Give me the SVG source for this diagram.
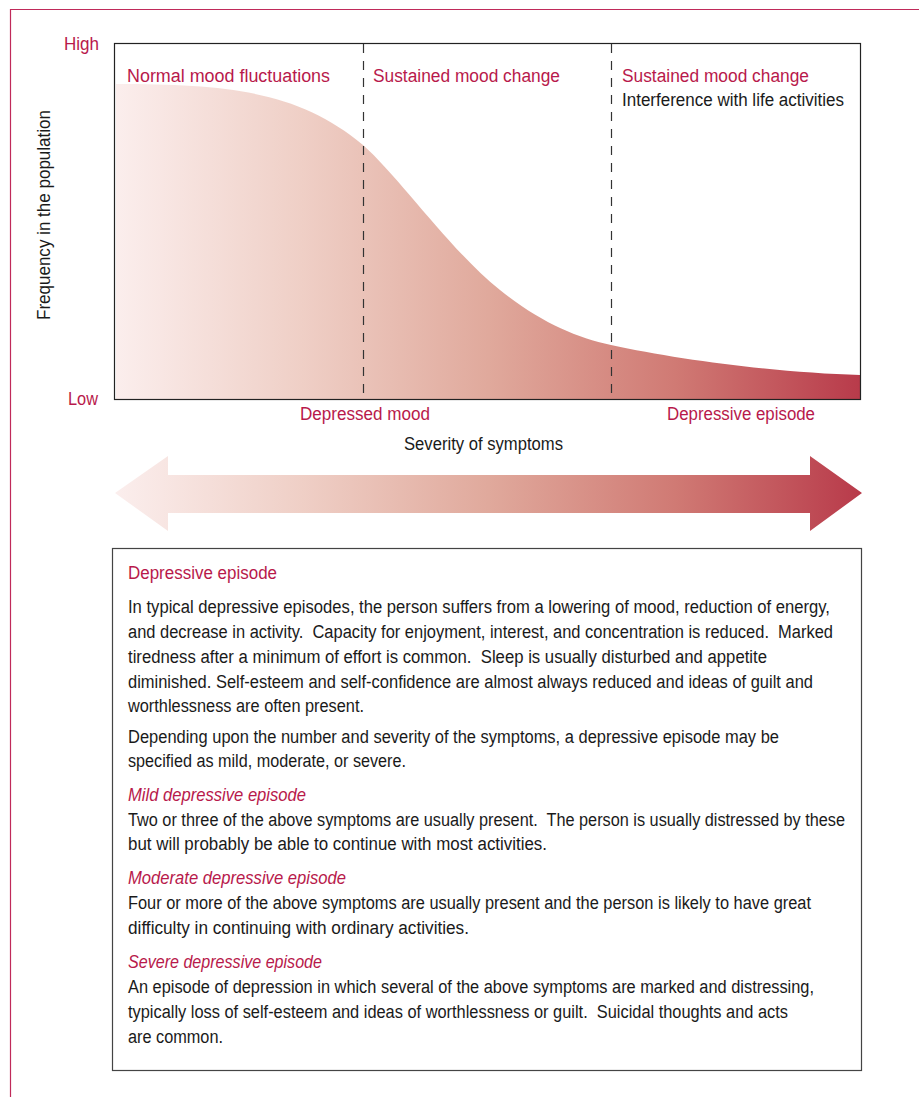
<svg xmlns="http://www.w3.org/2000/svg" width="919" height="1097" viewBox="0 0 919 1097">
<style>
text{font-family:"Liberation Sans",Arial,sans-serif;font-size:18px;fill:#1a1a1a;white-space:pre}
.r{fill:#b8194b}
.i{font-style:italic}
.dash{stroke:#333;stroke-width:1.2;stroke-dasharray:9 8;fill:none}
</style>
<defs>
<linearGradient id="g" gradientUnits="userSpaceOnUse" x1="115" y1="0" x2="862" y2="0">
<stop offset="0" stop-color="#fbeeed"/>
<stop offset="0.25" stop-color="#efcfc6"/>
<stop offset="0.5" stop-color="#e0a99c"/>
<stop offset="0.75" stop-color="#d07a74"/>
<stop offset="1" stop-color="#b83a4a"/>
</linearGradient>
</defs>
<rect width="919" height="1097" fill="#fff"/>
<path d="M919,9.5H10.5V1097" fill="none" stroke="#c02a5a" stroke-width="1.2"/>
<g id="chart">
<path d="M116,399V84C230,84 300,92 363,145C400,178 450,250 500,290C540,322 575,337 611,345C680,360 780,373 860,375V399Z" fill="url(#g)"/>
<rect x="114.5" y="43.5" width="746" height="356" fill="none" stroke="#222" stroke-width="1.2"/>
<line class="dash" x1="363.5" y1="44" x2="363.5" y2="399"/>
<line class="dash" x1="611.5" y1="44" x2="611.5" y2="399"/>
<text class="r" x="99" y="50" text-anchor="end" textLength="35" lengthAdjust="spacingAndGlyphs">High</text>
<text class="r" x="98" y="405" text-anchor="end" textLength="30" lengthAdjust="spacingAndGlyphs">Low</text>
<text x="0" y="0" transform="translate(50,215) rotate(-90)" text-anchor="middle" font-size="17" textLength="210" lengthAdjust="spacingAndGlyphs">Frequency in the population</text>
<text class="r" x="127" y="82" textLength="203" lengthAdjust="spacingAndGlyphs">Normal mood fluctuations</text>
<text class="r" x="373" y="82" textLength="187" lengthAdjust="spacingAndGlyphs">Sustained mood change</text>
<text class="r" x="622" y="82" textLength="187" lengthAdjust="spacingAndGlyphs">Sustained mood change</text>
<text x="622" y="106" textLength="222" lengthAdjust="spacingAndGlyphs">Interference with life activities</text>
<text class="r" x="300" y="420" textLength="130" lengthAdjust="spacingAndGlyphs">Depressed mood</text>
<text class="r" x="667" y="420" textLength="148" lengthAdjust="spacingAndGlyphs">Depressive episode</text>
<text x="404" y="450" textLength="159" lengthAdjust="spacingAndGlyphs">Severity of symptoms</text>
</g>
<g id="severity-arrow">
<polygon points="115,493 168,456 168,475 810,475 810,456 862,493 810,531 810,513 168,513 168,531" fill="url(#g)"/>
</g>
<g id="textbox">
<rect x="112.5" y="548.5" width="749" height="522" fill="#fff" stroke="#444" stroke-width="1.2"/>
<text class="r" x="128" y="579" textLength="149" lengthAdjust="spacingAndGlyphs">Depressive episode</text>
<text x="128" y="613" textLength="702" lengthAdjust="spacingAndGlyphs">In typical depressive episodes, the person suffers from a lowering of mood, reduction of energy,</text>
<text x="128" y="638" textLength="705" lengthAdjust="spacingAndGlyphs">and decrease in activity.  Capacity for enjoyment, interest, and concentration is reduced.  Marked</text>
<text x="128" y="663" textLength="639" lengthAdjust="spacingAndGlyphs">tiredness after a minimum of effort is common.  Sleep is usually disturbed and appetite</text>
<text x="128" y="688" textLength="685" lengthAdjust="spacingAndGlyphs">diminished. Self-esteem and self-confidence are almost always reduced and ideas of guilt and</text>
<text x="128" y="712" textLength="236" lengthAdjust="spacingAndGlyphs">worthlessness are often present.</text>
<text x="128" y="743" textLength="651" lengthAdjust="spacingAndGlyphs">Depending upon the number and severity of the symptoms, a depressive episode may be</text>
<text x="128" y="767" textLength="278" lengthAdjust="spacingAndGlyphs">specified as mild, moderate, or severe.</text>
<text class="r i" x="128" y="801" textLength="178" lengthAdjust="spacingAndGlyphs">Mild depressive episode</text>
<text x="128" y="826" textLength="717" lengthAdjust="spacingAndGlyphs">Two or three of the above symptoms are usually present.  The person is usually distressed by these</text>
<text x="128" y="850" textLength="419" lengthAdjust="spacingAndGlyphs">but will probably be able to continue with most activities.</text>
<text class="r i" x="128" y="884" textLength="218" lengthAdjust="spacingAndGlyphs">Moderate depressive episode</text>
<text x="128" y="909" textLength="683" lengthAdjust="spacingAndGlyphs">Four or more of the above symptoms are usually present and the person is likely to have great</text>
<text x="128" y="934" textLength="341" lengthAdjust="spacingAndGlyphs">difficulty in continuing with ordinary activities.</text>
<text class="r i" x="128" y="968" textLength="194" lengthAdjust="spacingAndGlyphs">Severe depressive episode</text>
<text x="128" y="993" textLength="686" lengthAdjust="spacingAndGlyphs">An episode of depression in which several of the above symptoms are marked and distressing,</text>
<text x="128" y="1018" textLength="660" lengthAdjust="spacingAndGlyphs">typically loss of self-esteem and ideas of worthlessness or guilt.  Suicidal thoughts and acts</text>
<text x="128" y="1043" textLength="95" lengthAdjust="spacingAndGlyphs">are common.</text>
</g>
</svg>
